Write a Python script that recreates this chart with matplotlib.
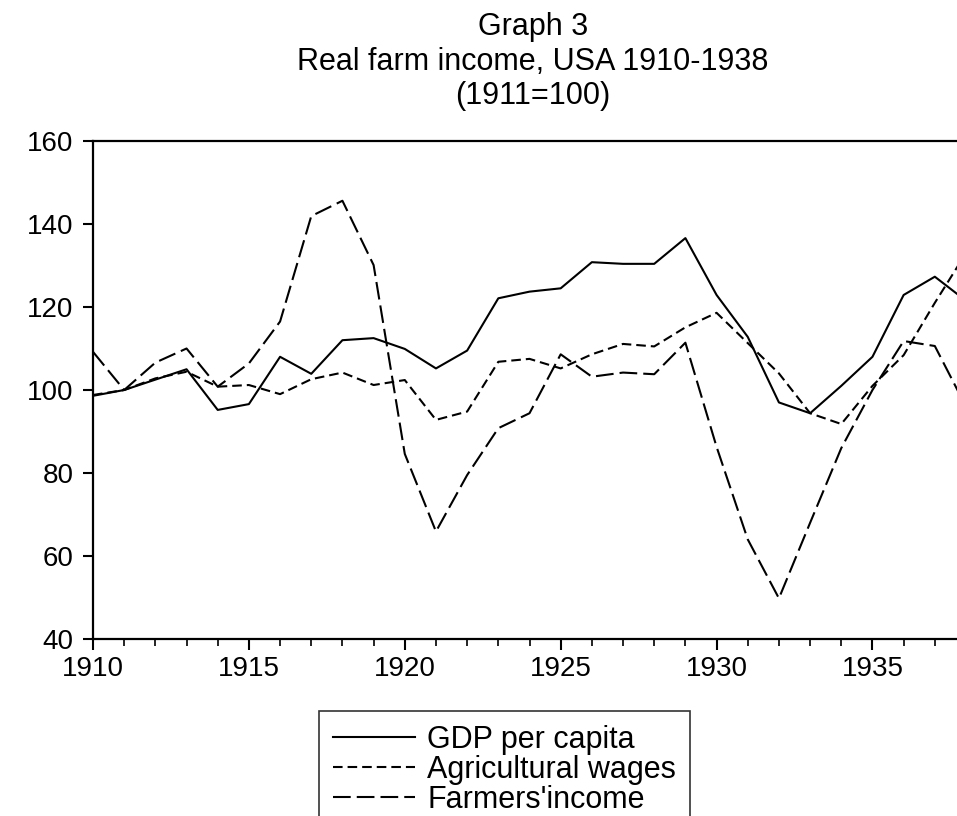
import matplotlib
matplotlib.use("Agg")
import matplotlib.pyplot as plt

plt.rcParams['font.family'] = ['Liberation Sans', 'DejaVu Sans']

# index numbers, 1911 = 100
years = list(range(1910, 1939))
gdp_per_capita = [98.6, 100, 102.5, 105, 95.2, 96.6, 108, 103.9, 112, 112.5,
                  109.9, 105.2, 109.5, 122.1, 123.7, 124.5, 130.8, 130.4, 130.4, 136.6,
                  122.9, 112.8, 97, 94.4, 101, 108, 122.9, 127.3, 121.5]
agri_wages = [98.8, 100, 102.8, 104.4, 100.8, 101.2, 99, 102.6, 104.2, 101.2,
              102.4, 92.8, 94.8, 106.8, 107.5, 105.2, 108.6, 111.1, 110.5, 115.1,
              118.6, 111.3, 104, 94.4, 91.8, 101, 108.4, 121, 133]
farmers_income = [109.2, 100, 106.6, 110, 100.8, 106.4, 116.5, 141.9, 145.6, 130.1,
                  84.6, 65.9, 79.5, 90.8, 94.4, 108.6, 103.2, 104.2, 103.8, 111.4,
                  86.3, 64, 49.8, 68, 86, 100, 111.8, 110.6, 96]

series_names = ["GDP per capita", "Agricultural wages", "Farmers'income"]
title_lines = ["Graph 3", "Real farm income, USA 1910-1938", "(1911=100)"]
y_ticks = [40, 60, 80, 100, 120, 140, 160]
x_ticks = [1910, 1915, 1920, 1925, 1930, 1935]

W, H = 957, 816
fig = plt.figure(figsize=(W / 100, H / 100), dpi=100)
# right end of the axis (1938) falls just outside the picture, as in the original
ax = fig.add_axes([93 / W, 1 - 639 / H, (966 - 93) / W, (639 - 141) / H])

ax.plot(years, gdp_per_capita, color='black', lw=1.5, label=series_names[0])
ax.plot(years, agri_wages, color='black', lw=1.5, dashes=(4.6, 2.4), label=series_names[1])
ax.plot(years, farmers_income, color='black', lw=1.5, dashes=(8.5, 2.9), label=series_names[2])

ax.set_xlim(1910, 1938)
ax.set_ylim(40, 160)
ax.set_yticks(y_ticks)
ax.set_xticks(x_ticks)
ax.set_xticks(years, minor=True)

for s in ax.spines.values():
    s.set_linewidth(1.6)
ax.tick_params(axis='y', direction='out', length=7, width=1.5, labelsize=20, pad=7)
ax.tick_params(axis='x', which='major', direction='out', length=8, width=1.5, labelsize=20, pad=4)
ax.tick_params(axis='x', which='minor', direction='out', length=5, width=1.2)

# title, three lines
for txt, yp in zip(title_lines, [27, 62, 96]):
    fig.text(533 / W, 1 - yp / H, txt, ha='center', va='center', fontsize=22)

# legend box runs off the bottom edge like in the original
leg = fig.legend(loc='upper left', bbox_to_anchor=(319 / W, 1 - 711 / H),
                 fontsize=22, frameon=True, fancybox=False, borderaxespad=0,
                 handlelength=2.7, handletextpad=0.4, labelspacing=0.0,
                 borderpad=0.45)
leg.get_frame().set_edgecolor('black')
leg.get_frame().set_linewidth(1.2)

fig.savefig("out.png", dpi=100)
